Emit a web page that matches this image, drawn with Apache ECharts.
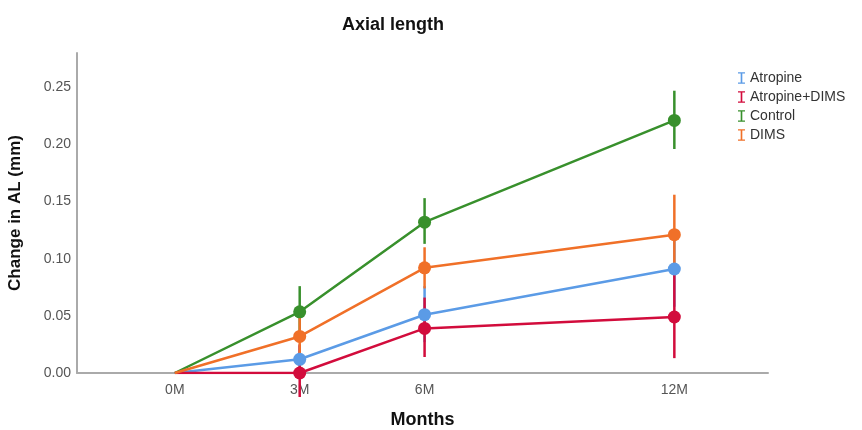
<!DOCTYPE html>
<html><head><meta charset="utf-8">
<script src="https://cdn.jsdelivr.net/npm/echarts@6/dist/echarts.min.js"></script>
<style>html,body{margin:0;padding:0;background:#fff}#c{width:862px;height:430px}</style>
</head><body><div id="c"></div>
<script>
const months = [0, 3, 6, 12];
const monthLabels = ['0M', '3M', '6M', '12M'];
const seriesNames = ['Atropine', 'Atropine+DIMS', 'Control', 'DIMS'];
const colors = ['#5b9be6', '#d20c3c', '#38902c', '#f07028'];
const atropine = [0, 0.012, 0.051, 0.091];
const atropineLow = [0, -0.002, 0.027, 0.058];
const atropineHigh = [0, 0.024, 0.076, 0.121];
const atropineDims = [0, 0.0, 0.039, 0.049];
const atropineDimsLow = [0, -0.021, 0.014, 0.013];
const atropineDimsHigh = [0, 0.025, 0.066, 0.086];
const control = [0, 0.0535, 0.132, 0.221];
const controlLow = [0, 0.032, 0.113, 0.196];
const controlHigh = [0, 0.076, 0.153, 0.247];
const dims = [0, 0.032, 0.092, 0.121];
const dimsLow = [0, 0.013, 0.074, 0.086];
const dimsHigh = [0, 0.051, 0.110, 0.156];

const means = [atropine, atropineDims, control, dims];
const lows = [atropineLow, atropineDimsLow, controlLow, dimsLow];
const highs = [atropineHigh, atropineDimsHigh, controlHigh, dimsHigh];

const font = '"Liberation Sans", Arial, sans-serif';
const iconI = 'path://M0,0 H6 V1.2 H3.7 V8.8 H6 V10 H0 V8.8 H2.3 V1.2 H0 Z';

const series = [];
seriesNames.forEach((name, i) => {
  series.push({
    name: name, type: 'custom', z: 2,
    data: months.map((m, j) => [m, lows[i][j], highs[i][j]]).filter(d => d[0] !== 0),
    renderItem: function (params, api) {
      const p1 = api.coord([api.value(0), api.value(1)]);
      const p2 = api.coord([api.value(0), api.value(2)]);
      return { type: 'line', shape: { x1: p1[0], y1: p1[1], x2: p2[0], y2: p2[1] },
        style: { stroke: colors[i], lineWidth: 2.5 } };
    },
    silent: true
  });
});
seriesNames.forEach((name, i) => {
  series.push({
    name: name, type: 'line', z: 3,
    data: months.map((m, j) => [m, means[i][j]]),
    symbol: 'circle',
    symbolSize: (v) => v[0] === 0 ? 0 : 13,
    lineStyle: { width: 2.5, color: colors[i] },
    itemStyle: { color: colors[i] },
    animation: false
  });
});

const chart = echarts.init(document.getElementById('c'));
chart.setOption({
  animation: false,
  color: colors,
  title: { text: 'Axial length', left: 388, top: 11, textAlign: 'center',
    textStyle: { fontFamily: font, fontSize: 18, fontWeight: 'bold', color: '#111' } },
  legend: {
    orient: 'vertical', left: 733, top: 66, itemGap: 5, itemWidth: 7, itemHeight: 12,
    data: seriesNames.map(n => ({ name: n, icon: iconI })),
    textStyle: { fontFamily: font, fontSize: 14, color: '#333', padding: [0, 0, 0, 0] }
  },
  grid: { left: 77, right: 94, top: 53, bottom: 57, outerBoundsMode: 'none', containLabel: false },
  xAxis: {
    type: 'value', min: -2.35, max: 14.25,
    name: 'Months', nameLocation: 'middle', nameGap: 38,
    nameTextStyle: { fontFamily: font, fontSize: 18, fontWeight: 'bold', color: '#111' },
    axisLine: { show: true, onZero: false, lineStyle: { color: '#aaaaaa', width: 2 } },
    axisTick: { show: false },
    splitLine: { show: false },
    axisLabel: { customValues: months, fontFamily: font, fontSize: 14, color: '#555', margin: 10,
      formatter: (v) => { const k = months.indexOf(v); return k >= 0 ? monthLabels[k] : ''; } }
  },
  yAxis: {
    type: 'value', min: 0, max: 0.28, interval: 0.05,
    name: 'Change in AL (mm)', nameLocation: 'middle', nameGap: 53,
    nameTextStyle: { fontFamily: font, fontSize: 17, fontWeight: 'bold', color: '#111' },
    axisLine: { show: true, onZero: false, lineStyle: { color: '#aaaaaa', width: 2 } },
    axisTick: { show: false },
    splitLine: { show: false },
    axisLabel: { showMaxLabel: false, fontFamily: font, fontSize: 14, color: '#555', margin: 6,
      formatter: (v) => v.toFixed(2) }
  },
  series: series
});
</script>
</body></html>
